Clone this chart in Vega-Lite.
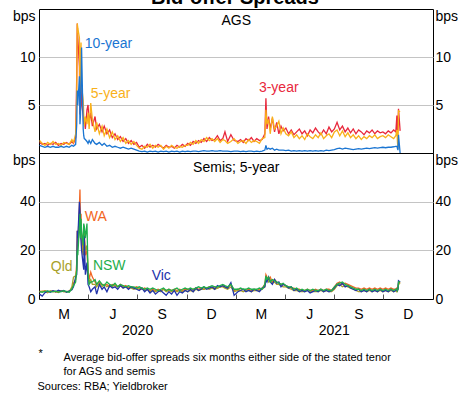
{
  "$schema": "https://vega.github.io/schema/vega-lite/v6.json",
  "autosize": {"type": "none"},
  "padding": {"left": 39, "top": 9, "right": 426, "bottom": 387},
  "bounds": "flush",
  "spacing": 0,
  "title": {"text": "Bid-offer Spreads", "fontSize": 20, "fontWeight": "bold", "font": "Liberation Sans", "color": "#000", "anchor": "middle", "baseline": "alphabetic", "offset": -15},
  "config": {
    "view": {"stroke": "#000", "strokeWidth": 1},
    "font": "Liberation Sans",
    "axis": {"labelFont": "Liberation Sans", "labelFontSize": 14, "labelColor": "#000", "titleFont": "Liberation Sans"},
    "text": {"font": "Liberation Sans"}
  },
  "datasets": {
    "s": [
      {"d":"2020-01-02","a3":1.1,"a5":1.3,"a10":0.8,"wa":3.2,"q":2.8,"n":3.0,"v":2.0},
      {"d":"2020-01-07","a3":0.9,"a5":1.0,"a10":0.7,"wa":3.0,"q":3.2,"n":2.7,"v":1.2},
      {"d":"2020-01-12","a3":1.0,"a5":0.8,"a10":0.6,"wa":3.4,"q":3.0,"n":3.1,"v":2.6},
      {"d":"2020-01-17","a3":0.8,"a5":1.1,"a10":0.7,"wa":2.9,"q":2.6,"n":3.3,"v":3.2},
      {"d":"2020-01-22","a3":1.0,"a5":0.9,"a10":0.6,"wa":3.1,"q":3.4,"n":2.9,"v":2.8},
      {"d":"2020-01-27","a3":0.9,"a5":1.2,"a10":0.7,"wa":3.3,"q":2.9,"n":3.0,"v":3.4},
      {"d":"2020-02-01","a3":1.1,"a5":0.9,"a10":0.6,"wa":2.8,"q":3.1,"n":3.2,"v":3.0},
      {"d":"2020-02-06","a3":0.8,"a5":1.0,"a10":0.6,"wa":3.0,"q":2.7,"n":2.8,"v":3.6},
      {"d":"2020-02-11","a3":1.0,"a5":0.8,"a10":0.7,"wa":3.4,"q":3.3,"n":3.0,"v":3.1},
      {"d":"2020-02-16","a3":0.9,"a5":1.1,"a10":0.6,"wa":3.1,"q":2.9,"n":3.4,"v":3.5},
      {"d":"2020-02-21","a3":1.1,"a5":1.0,"a10":0.7,"wa":2.9,"q":3.1,"n":3.0,"v":2.8},
      {"d":"2020-02-26","a3":0.9,"a5":0.9,"a10":0.6,"wa":3.2,"q":3.0,"n":2.8,"v":3.3},
      {"d":"2020-03-02","a3":1.2,"a5":1.4,"a10":0.8,"wa":4.0,"q":5.0,"n":4.2,"v":3.8},
      {"d":"2020-03-05","a3":1.0,"a5":1.1,"a10":0.7,"wa":6.5,"q":9.0,"n":5.5,"v":5.0},
      {"d":"2020-03-09","a3":1.6,"a5":2.0,"a10":0.9,"wa":8.0,"q":9.5,"n":7.0,"v":9.0},
      {"d":"2020-03-11","a3":8,"a5":6,"a10":3,"wa":15,"q":12,"n":12,"v":10},
      {"d":"2020-03-12","a3":13.5,"a5":13.5,"a10":6.5,"wa":28,"q":22,"n":20,"v":28},
      {"d":"2020-03-13","a3":12,"a5":13,"a10":5,"wa":22,"q":25,"n":18,"v":25},
      {"d":"2020-03-16","a3":9,"a5":12,"a10":8,"wa":38,"q":32,"n":30,"v":40},
      {"d":"2020-03-17","a3":4,"a5":6,"a10":3,"wa":45,"q":36,"n":35,"v":36},
      {"d":"2020-03-18","a3":6,"a5":9.5,"a10":4,"wa":30,"q":28,"n":25,"v":26},
      {"d":"2020-03-19","a3":10,"a5":11.5,"a10":7,"wa":35,"q":30,"n":33,"v":24},
      {"d":"2020-03-20","a3":5,"a5":7,"a10":11,"wa":25,"q":22,"n":28,"v":20},
      {"d":"2020-03-23","a3":4,"a5":5.5,"a10":2.5,"wa":20,"q":18,"n":22,"v":14},
      {"d":"2020-03-24","a3":3,"a5":4,"a10":1.8,"wa":29,"q":30,"n":31,"v":12},
      {"d":"2020-03-25","a3":3.5,"a5":2.8,"a10":1.5,"wa":27,"q":25,"n":30,"v":26},
      {"d":"2020-03-27","a3":2.5,"a5":3.8,"a10":1.4,"wa":18,"q":20,"n":25,"v":10},
      {"d":"2020-03-30","a3":4.5,"a5":3,"a10":1.2,"wa":20,"q":22,"n":31,"v":15},
      {"d":"2020-04-01","a3":5.0,"a5":4.2,"a10":1.0,"wa":12,"q":10,"n":10,"v":6},
      {"d":"2020-04-03","a3":3.2,"a5":2.5,"a10":1.3,"wa":8,"q":7,"n":6,"v":5},
      {"d":"2020-04-06","a3":4.2,"a5":5.2,"a10":1.0,"wa":11,"q":8,"n":7,"v":3},
      {"d":"2020-04-09","a3":2.8,"a5":3.5,"a10":1.4,"wa":9,"q":6,"n":7,"v":4},
      {"d":"2020-04-14","a3":3.8,"a5":2.2,"a10":1.0,"wa":7,"q":6,"n":8,"v":5},
      {"d":"2020-04-17","a3":2.5,"a5":3.2,"a10":0.9,"wa":6,"q":5,"n":6,"v":2},
      {"d":"2020-04-22","a3":3.0,"a5":2.0,"a10":1.1,"wa":7,"q":6.5,"n":7.5,"v":6},
      {"d":"2020-04-27","a3":2.2,"a5":2.8,"a10":0.8,"wa":6,"q":5,"n":6,"v":4},
      {"d":"2020-05-01","a3":2.8,"a5":1.8,"a10":1.0,"wa":5.5,"q":6,"n":5.5,"v":5},
      {"d":"2020-05-06","a3":2.0,"a5":2.5,"a10":0.7,"wa":6,"q":5,"n":7,"v":3},
      {"d":"2020-05-11","a3":2.4,"a5":1.6,"a10":0.8,"wa":5,"q":5.5,"n":6,"v":5.5},
      {"d":"2020-05-16","a3":1.6,"a5":2.2,"a10":0.6,"wa":6,"q":5,"n":5.5,"v":4.5},
      {"d":"2020-05-21","a3":2.0,"a5":1.4,"a10":0.7,"wa":5.5,"q":6,"n":6.5,"v":5},
      {"d":"2020-05-26","a3":1.4,"a5":1.8,"a10":0.6,"wa":5,"q":5,"n":5,"v":4},
      {"d":"2020-05-31","a3":1.7,"a5":1.2,"a10":0.5,"wa":6,"q":5.5,"n":6,"v":5.5},
      {"d":"2020-06-05","a3":1.2,"a5":1.6,"a10":0.6,"wa":5,"q":4.5,"n":5.5,"v":4.5},
      {"d":"2020-06-10","a3":1.5,"a5":1.0,"a10":0.5,"wa":5.5,"q":5,"n":5,"v":5},
      {"d":"2020-06-15","a3":1.0,"a5":1.3,"a10":0.4,"wa":4.5,"q":5,"n":5.5,"v":4},
      {"d":"2020-06-20","a3":1.3,"a5":0.9,"a10":0.5,"wa":5,"q":4.5,"n":5,"v":5},
      {"d":"2020-06-25","a3":0.9,"a5":1.2,"a10":0.4,"wa":4.5,"q":4,"n":5,"v":4.5},
      {"d":"2020-06-30","a3":1.1,"a5":0.8,"a10":0.3,"wa":5,"q":4.5,"n":4.5,"v":4},
      {"d":"2020-07-05","a3":0.6,"a5":0.5,"a10":0.2,"wa":4.5,"q":4,"n":5,"v":3.5},
      {"d":"2020-07-10","a3":0.8,"a5":0.4,"a10":0.15,"wa":4,"q":4.5,"n":4.5,"v":4.5},
      {"d":"2020-07-15","a3":0.5,"a5":0.7,"a10":0.2,"wa":4.5,"q":3.5,"n":4,"v":3},
      {"d":"2020-07-20","a3":0.9,"a5":0.6,"a10":0.1,"wa":4,"q":4,"n":4.5,"v":4},
      {"d":"2020-07-25","a3":0.6,"a5":0.9,"a10":0.2,"wa":3.5,"q":3,"n":4,"v":2.5},
      {"d":"2020-07-30","a3":0.8,"a5":0.5,"a10":0.15,"wa":4,"q":3.5,"n":4.5,"v":3.5},
      {"d":"2020-08-04","a3":0.6,"a5":0.8,"a10":0.2,"wa":3.5,"q":3,"n":4,"v":2},
      {"d":"2020-08-09","a3":0.9,"a5":0.6,"a10":0.1,"wa":4,"q":3.5,"n":3.5,"v":3},
      {"d":"2020-08-14","a3":0.7,"a5":0.8,"a10":0.2,"wa":3.5,"q":3,"n":4,"v":3.5},
      {"d":"2020-08-19","a3":0.5,"a5":0.4,"a10":0.15,"wa":4,"q":4,"n":4.5,"v":2.5},
      {"d":"2020-08-24","a3":0.8,"a5":0.7,"a10":0.2,"wa":3.5,"q":3,"n":3.5,"v":1.5},
      {"d":"2020-08-29","a3":0.6,"a5":0.5,"a10":0.1,"wa":4,"q":3.5,"n":4,"v":3},
      {"d":"2020-09-03","a3":0.7,"a5":0.8,"a10":0.2,"wa":3.5,"q":3,"n":3.5,"v":2},
      {"d":"2020-09-08","a3":0.5,"a5":0.6,"a10":0.15,"wa":4,"q":3.5,"n":4,"v":3.5},
      {"d":"2020-09-13","a3":0.8,"a5":0.5,"a10":0.2,"wa":3.5,"q":3,"n":4.5,"v":1.5},
      {"d":"2020-09-18","a3":0.6,"a5":0.7,"a10":0.1,"wa":4,"q":3.5,"n":3.5,"v":3},
      {"d":"2020-09-23","a3":0.9,"a5":0.6,"a10":0.2,"wa":3.5,"q":3,"n":4,"v":2.5},
      {"d":"2020-09-28","a3":0.7,"a5":0.8,"a10":0.15,"wa":4,"q":3.5,"n":4.5,"v":3.5},
      {"d":"2020-10-03","a3":1.0,"a5":0.8,"a10":0.2,"wa":4,"q":3,"n":4,"v":3},
      {"d":"2020-10-08","a3":0.8,"a5":1.1,"a10":0.15,"wa":3.5,"q":3.5,"n":4.5,"v":4},
      {"d":"2020-10-13","a3":1.2,"a5":0.9,"a10":0.2,"wa":4,"q":3,"n":4,"v":3},
      {"d":"2020-10-18","a3":1.0,"a5":1.3,"a10":0.2,"wa":4.5,"q":4,"n":4.5,"v":4.5},
      {"d":"2020-10-23","a3":1.3,"a5":1.0,"a10":0.15,"wa":4,"q":3.5,"n":5,"v":3.5},
      {"d":"2020-10-28","a3":1.1,"a5":1.4,"a10":0.2,"wa":4.5,"q":4,"n":4.5,"v":4},
      {"d":"2020-11-02","a3":1.5,"a5":1.2,"a10":0.25,"wa":4,"q":4,"n":5,"v":5},
      {"d":"2020-11-07","a3":1.2,"a5":1.6,"a10":0.2,"wa":4.5,"q":4.5,"n":4.5,"v":4},
      {"d":"2020-11-12","a3":1.6,"a5":1.3,"a10":0.2,"wa":5,"q":4,"n":5,"v":4.5},
      {"d":"2020-11-17","a3":1.3,"a5":1.5,"a10":0.25,"wa":4.5,"q":4.5,"n":5.5,"v":5},
      {"d":"2020-11-22","a3":1.4,"a5":1.2,"a10":0.2,"wa":5,"q":4,"n":5,"v":4},
      {"d":"2020-11-27","a3":1.8,"a5":1.5,"a10":0.2,"wa":4.5,"q":4.5,"n":5,"v":5.5},
      {"d":"2020-12-02","a3":1.3,"a5":1.1,"a10":0.25,"wa":5,"q":5,"n":5.5,"v":5},
      {"d":"2020-12-07","a3":1.5,"a5":1.4,"a10":0.2,"wa":5.5,"q":5,"n":6,"v":5.5},
      {"d":"2020-12-11","a3":2.2,"a5":1.3,"a10":0.2,"wa":5,"q":4.5,"n":5.5,"v":5},
      {"d":"2020-12-16","a3":1.2,"a5":1.0,"a10":0.2,"wa":4.5,"q":4,"n":5,"v":4.5},
      {"d":"2020-12-22","a3":1.9,"a5":1.2,"a10":0.15,"wa":6,"q":5,"n":6,"v":6.7},
      {"d":"2020-12-28","a3":1.3,"a5":1.5,"a10":0.2,"wa":3.5,"q":3,"n":4,"v":1.5},
      {"d":"2021-01-04","a3":1.2,"a5":1.0,"a10":0.2,"wa":4,"q":3.5,"n":4,"v":3},
      {"d":"2021-01-09","a3":1.4,"a5":1.2,"a10":0.15,"wa":3.5,"q":3.5,"n":4.5,"v":3.5},
      {"d":"2021-01-14","a3":1.1,"a5":1.3,"a10":0.2,"wa":4,"q":3,"n":4,"v":4},
      {"d":"2021-01-19","a3":1.5,"a5":1.0,"a10":0.15,"wa":3.5,"q":3.5,"n":4,"v":3},
      {"d":"2021-01-24","a3":1.3,"a5":1.4,"a10":0.2,"wa":4,"q":3.5,"n":4.5,"v":3.5},
      {"d":"2021-01-29","a3":1.6,"a5":1.1,"a10":0.2,"wa":3.5,"q":3,"n":4,"v":3},
      {"d":"2021-02-03","a3":1.2,"a5":1.3,"a10":0.15,"wa":4,"q":3.5,"n":4,"v":4},
      {"d":"2021-02-08","a3":1.5,"a5":1.2,"a10":0.2,"wa":3.5,"q":3.5,"n":4,"v":3.5},
      {"d":"2021-02-13","a3":1.3,"a5":1.0,"a10":0.15,"wa":4,"q":3.5,"n":4.5,"v":3},
      {"d":"2021-02-18","a3":1.4,"a5":1.5,"a10":0.2,"wa":4.5,"q":4,"n":4,"v":4.5},
      {"d":"2021-02-23","a3":2.0,"a5":1.6,"a10":0.3,"wa":6,"q":5,"n":6,"v":5},
      {"d":"2021-02-25","a3":5.7,"a5":4.5,"a10":0.8,"wa":10,"q":8,"n":9.5,"v":8},
      {"d":"2021-02-27","a3":2.5,"a5":3.0,"a10":0.4,"wa":9,"q":8.5,"n":8,"v":7},
      {"d":"2021-03-02","a3":3.8,"a5":3.5,"a10":0.5,"wa":8,"q":7,"n":9,"v":9},
      {"d":"2021-03-05","a3":2.5,"a5":2.0,"a10":0.4,"wa":9,"q":8,"n":7,"v":7},
      {"d":"2021-03-09","a3":3.6,"a5":3.8,"a10":0.5,"wa":7,"q":6.5,"n":8,"v":6},
      {"d":"2021-03-13","a3":2.2,"a5":2.5,"a10":0.3,"wa":8,"q":7,"n":7.5,"v":8},
      {"d":"2021-03-17","a3":3.2,"a5":2.8,"a10":0.4,"wa":7,"q":6,"n":7,"v":6.5},
      {"d":"2021-03-21","a3":2.0,"a5":3.3,"a10":0.3,"wa":6.5,"q":6,"n":6.5,"v":7},
      {"d":"2021-03-25","a3":2.8,"a5":2.0,"a10":0.3,"wa":6,"q":5.5,"n":6,"v":5},
      {"d":"2021-03-29","a3":2.3,"a5":2.6,"a10":0.3,"wa":6,"q":5,"n":6.5,"v":6},
      {"d":"2021-04-03","a3":2.6,"a5":2.0,"a10":0.25,"wa":5.5,"q":5,"n":5.5,"v":5.5},
      {"d":"2021-04-08","a3":2.0,"a5":1.8,"a10":0.3,"wa":5,"q":4.5,"n":5,"v":4.5},
      {"d":"2021-04-13","a3":2.4,"a5":2.2,"a10":0.2,"wa":4.5,"q":4,"n":5,"v":5},
      {"d":"2021-04-18","a3":1.9,"a5":1.6,"a10":0.25,"wa":4.5,"q":3.5,"n":4,"v":3.5},
      {"d":"2021-04-23","a3":2.2,"a5":1.9,"a10":0.2,"wa":4,"q":3.5,"n":4.5,"v":4},
      {"d":"2021-04-28","a3":2.5,"a5":1.5,"a10":0.25,"wa":4,"q":3,"n":3.5,"v":3},
      {"d":"2021-05-03","a3":2.0,"a5":1.8,"a10":0.2,"wa":3.5,"q":3,"n":4,"v":3.5},
      {"d":"2021-05-08","a3":2.3,"a5":1.4,"a10":0.25,"wa":3.5,"q":3,"n":3.5,"v":3},
      {"d":"2021-05-13","a3":1.8,"a5":2.0,"a10":0.2,"wa":4,"q":3.5,"n":4,"v":3.5},
      {"d":"2021-05-18","a3":2.4,"a5":1.7,"a10":0.25,"wa":3.5,"q":3,"n":3.5,"v":2.5},
      {"d":"2021-05-23","a3":2.1,"a5":1.5,"a10":0.2,"wa":3.5,"q":3,"n":4,"v":3},
      {"d":"2021-05-28","a3":2.6,"a5":1.9,"a10":0.25,"wa":4,"q":3,"n":3.5,"v":3.5},
      {"d":"2021-06-02","a3":2.2,"a5":1.6,"a10":0.2,"wa":3.5,"q":3,"n":3.5,"v":3},
      {"d":"2021-06-07","a3":1.9,"a5":2.1,"a10":0.25,"wa":4,"q":3.5,"n":4,"v":4},
      {"d":"2021-06-12","a3":2.4,"a5":1.5,"a10":0.2,"wa":3.5,"q":3,"n":3.5,"v":3},
      {"d":"2021-06-17","a3":2.0,"a5":1.8,"a10":0.3,"wa":4,"q":3.5,"n":4,"v":3.5},
      {"d":"2021-06-22","a3":2.7,"a5":2.0,"a10":0.25,"wa":4,"q":3,"n":3.5,"v":3},
      {"d":"2021-06-27","a3":2.2,"a5":1.6,"a10":0.3,"wa":3.5,"q":3,"n":3.5,"v":3.5},
      {"d":"2021-07-02","a3":2.5,"a5":2.2,"a10":0.35,"wa":5,"q":4,"n":5,"v":4.5},
      {"d":"2021-07-07","a3":3.2,"a5":2.4,"a10":0.45,"wa":6.5,"q":5.5,"n":6,"v":6},
      {"d":"2021-07-12","a3":2.4,"a5":1.8,"a10":0.5,"wa":7,"q":6,"n":6.5,"v":5.5},
      {"d":"2021-07-17","a3":2.8,"a5":2.3,"a10":0.4,"wa":6,"q":5,"n":7,"v":6.5},
      {"d":"2021-07-22","a3":2.2,"a5":1.7,"a10":0.5,"wa":6.5,"q":5.5,"n":6,"v":5},
      {"d":"2021-07-27","a3":2.6,"a5":2.1,"a10":0.45,"wa":6,"q":5,"n":5.5,"v":5.5},
      {"d":"2021-08-01","a3":2.1,"a5":1.6,"a10":0.4,"wa":5.5,"q":4.5,"n":5,"v":4.5},
      {"d":"2021-08-06","a3":2.5,"a5":1.9,"a10":0.35,"wa":5,"q":4,"n":4.5,"v":4},
      {"d":"2021-08-11","a3":2.0,"a5":1.5,"a10":0.4,"wa":4.5,"q":3.5,"n":4,"v":3.5},
      {"d":"2021-08-16","a3":2.4,"a5":1.8,"a10":0.45,"wa":4.5,"q":3,"n":4,"v":4},
      {"d":"2021-08-21","a3":2.2,"a5":1.4,"a10":0.4,"wa":4,"q":3,"n":3.5,"v":3},
      {"d":"2021-08-26","a3":1.9,"a5":1.7,"a10":0.45,"wa":4.5,"q":3.5,"n":4,"v":3.5},
      {"d":"2021-08-31","a3":2.3,"a5":1.5,"a10":0.5,"wa":4,"q":3,"n":3.5,"v":3},
      {"d":"2021-09-05","a3":2.1,"a5":1.8,"a10":0.45,"wa":4.5,"q":3.5,"n":4,"v":4},
      {"d":"2021-09-10","a3":2.4,"a5":1.6,"a10":0.5,"wa":4,"q":3,"n":3.5,"v":3},
      {"d":"2021-09-15","a3":2.0,"a5":1.9,"a10":0.55,"wa":4.5,"q":3.5,"n":4,"v":3.5},
      {"d":"2021-09-20","a3":2.3,"a5":1.5,"a10":0.5,"wa":4,"q":3,"n":3.5,"v":3},
      {"d":"2021-09-25","a3":2.1,"a5":1.7,"a10":0.55,"wa":4.5,"q":3.5,"n":4,"v":4},
      {"d":"2021-09-30","a3":2.2,"a5":1.8,"a10":0.6,"wa":4,"q":3,"n":3.5,"v":3},
      {"d":"2021-10-05","a3":2.0,"a5":1.6,"a10":0.55,"wa":4.5,"q":3.5,"n":4,"v":3.5},
      {"d":"2021-10-10","a3":2.3,"a5":1.9,"a10":0.6,"wa":4,"q":3,"n":3.5,"v":3},
      {"d":"2021-10-15","a3":2.1,"a5":1.7,"a10":0.6,"wa":4.5,"q":3.5,"n":4,"v":4},
      {"d":"2021-10-20","a3":2.4,"a5":1.5,"a10":0.65,"wa":4,"q":3,"n":3.5,"v":3},
      {"d":"2021-10-24","a3":2.2,"a5":1.8,"a10":0.7,"wa":4,"q":3.5,"n":4,"v":3.5},
      {"d":"2021-10-26","a3":3.9,"a5":2.4,"a10":0.7,"wa":4.5,"q":3,"n":4,"v":4},
      {"d":"2021-10-27","a3":2.0,"a5":1.2,"a10":0.5,"wa":4,"q":3.5,"n":3.5,"v":3.5},
      {"d":"2021-10-28","a3":2.8,"a5":0.4,"a10":0.3,"wa":4.5,"q":4,"n":4.5,"v":4},
      {"d":"2021-10-29","a3":4.6,"a5":4.4,"a10":1.9,"wa":6.5,"q":6,"n":7,"v":7.5},
      {"d":"2021-11-01","a3":2.3,"a5":4.3,"a10":0.0,"wa":7,"q":6.5,"n":7,"v":7}
    ],
    "lab": [
      {"p":1,"t":"10-year","d":"2020-03-26","v":11.35},
      {"p":1,"t":"5-year","d":"2020-04-06","v":6.1},
      {"p":1,"t":"3-year","d":"2021-02-12","v":6.77},
      {"p":2,"t":"WA","d":"2020-03-26","v":33.9},
      {"p":2,"t":"Qld","d":"2020-01-23","v":13.2},
      {"p":2,"t":"NSW","d":"2020-04-10","v":13.7},
      {"p":2,"t":"Vic","d":"2020-07-28","v":9.5}
    ],
    "ttl": [
      {"p":1,"t":"AGS","d":"2021-01-01","v":13.75},
      {"p":2,"t":"Semis; 5-year","d":"2021-01-01","v":53.9}
    ]
  },
  "data": {"name": "s"},
  "vconcat": [
    {
      "width": 394,
      "height": 144,
      "layer": [
        {"mark": {"type": "line", "color": "#e8283c", "strokeWidth": 1.3},
         "encoding": {
           "x": {"field": "d", "type": "temporal", "scale": {"type": "utc", "domain": [{"year":2020,"month":1,"date":1,"utc":true},{"year":2022,"month":1,"date":1,"utc":true}]}, "axis": null},
           "y": {"field": "a3", "type": "quantitative", "scale": {"domain": [0, 15], "nice": false}, "axis": {"orient": "left", "values": [0, 5, 10, 15], "title": null, "domain": false, "ticks": false, "labelPadding": 4, "labelFlush": false, "labelOverlap": false, "labelExpr": "datum.value==15?'bps':datum.value==0?'':datum.label", "labelBaseline": {"condition": {"test": "datum.value==15", "value": "top"}, "value": "middle"}, "grid": true, "gridColor": {"condition": {"test": "datum.value==0||datum.value==15", "value": "transparent"}, "value": "#c4c4c4"}}}
         }},
        {"mark": {"type": "line", "color": "#f9b11a", "strokeWidth": 1.3},
         "encoding": {
           "x": {"field": "d", "type": "temporal", "scale": {"type": "utc", "domain": [{"year":2020,"month":1,"date":1,"utc":true},{"year":2022,"month":1,"date":1,"utc":true}]}, "axis": null},
           "y": {"field": "a5", "type": "quantitative", "scale": {"domain": [0, 15], "nice": false}, "axis": null}
         }},
        {"mark": {"type": "line", "color": "#1a75d2", "strokeWidth": 1.3},
         "encoding": {
           "x": {"field": "d", "type": "temporal", "scale": {"type": "utc", "domain": [{"year":2020,"month":1,"date":1,"utc":true},{"year":2022,"month":1,"date":1,"utc":true}]}, "axis": null},
           "y": {"field": "a10", "type": "quantitative", "scale": {"domain": [0, 15], "nice": false}, "axis": null}
         }},
        {"mark": {"type": "point", "opacity": 0},
         "encoding": {
           "x": {"field": "d", "type": "temporal", "scale": {"type": "utc", "domain": [{"year":2020,"month":1,"date":1,"utc":true},{"year":2022,"month":1,"date":1,"utc":true}]}, "axis": null},
           "y": {"field": "a3", "type": "quantitative", "scale": {"domain": [0, 15], "nice": false}, "axis": {"orient": "right", "values": [0, 5, 10, 15], "title": null, "domain": false, "ticks": false, "grid": false, "labelPadding": 2, "labelFlush": false, "labelOverlap": false, "labelExpr": "datum.value==15?'bps':datum.value==0?'':datum.label", "labelBaseline": {"condition": {"test": "datum.value==15", "value": "top"}, "value": "middle"}}}
         }},
        {"data": {"name": "lab"}, "transform": [{"filter": "datum.p==1"}],
         "mark": {"type": "text", "align": "left", "baseline": "middle", "fontSize": 14},
         "encoding": {
           "x": {"field": "d", "type": "temporal", "scale": {"type": "utc", "domain": [{"year":2020,"month":1,"date":1,"utc":true},{"year":2022,"month":1,"date":1,"utc":true}]}, "axis": null},
           "y": {"field": "v", "type": "quantitative", "scale": {"domain": [0, 15], "nice": false}, "axis": null},
           "text": {"field": "t"},
           "color": {"field": "t", "type": "nominal", "scale": {"domain": ["3-year","5-year","10-year","WA","Qld","NSW","Vic"], "range": ["#e8283c","#f9b11a","#1a75d2","#f26522","#a8a12a","#1fae4c","#2233aa"]}, "legend": null}
         }},
        {"data": {"name": "ttl"}, "transform": [{"filter": "datum.p==1"}],
         "mark": {"type": "text", "align": "center", "baseline": "middle", "fontSize": 14, "color": "#000"},
         "encoding": {
           "x": {"field": "d", "type": "temporal", "scale": {"type": "utc", "domain": [{"year":2020,"month":1,"date":1,"utc":true},{"year":2022,"month":1,"date":1,"utc":true}]}, "axis": null},
           "y": {"field": "v", "type": "quantitative", "scale": {"domain": [0, 15], "nice": false}, "axis": null},
           "text": {"field": "t"}
         }}
      ],
      "resolve": {"axis": {"x": "independent", "y": "independent"}}
    },
    {
      "width": 394,
      "height": 146,
      "layer": [
        {"mark": {"type": "line", "color": "#f26522", "strokeWidth": 1.3},
         "encoding": {
           "x": {"field": "d", "type": "temporal", "scale": {"type": "utc", "domain": [{"year":2020,"month":1,"date":1,"utc":true},{"year":2022,"month":1,"date":1,"utc":true}]}, "axis": {"orient": "bottom", "values": [{"year":2020,"month":4,"date":1,"utc":true},{"year":2020,"month":7,"date":1,"utc":true},{"year":2020,"month":10,"date":1,"utc":true},{"year":2021,"month":1,"date":1,"utc":true},{"year":2021,"month":4,"date":1,"utc":true},{"year":2021,"month":7,"date":1,"utc":true},{"year":2021,"month":10,"date":1,"utc":true}], "labels": false, "domain": false, "ticks": true, "tickSize": -5, "tickColor": "#555", "tickWidth": 1, "grid": false, "title": null}},
           "y": {"field": "wa", "type": "quantitative", "scale": {"domain": [0, 60], "nice": false}, "axis": {"orient": "left", "values": [0, 20, 40, 60], "title": null, "domain": false, "ticks": false, "labelPadding": 4, "labelFlush": false, "labelOverlap": false, "labelExpr": "datum.value==60?'bps':datum.label", "labelBaseline": {"condition": {"test": "datum.value==60", "value": "top"}, "value": "middle"}, "grid": true, "gridColor": {"condition": {"test": "datum.value==0||datum.value==60", "value": "transparent"}, "value": "#c4c4c4"}}}
         }},
        {"mark": {"type": "line", "color": "#a8a12a", "strokeWidth": 1.3},
         "encoding": {
           "x": {"field": "d", "type": "temporal", "scale": {"type": "utc", "domain": [{"year":2020,"month":1,"date":1,"utc":true},{"year":2022,"month":1,"date":1,"utc":true}]}, "axis": {"orient": "bottom", "values": [{"year":2020,"month":1,"date":1,"utc":true},{"year":2020,"month":4,"date":1,"utc":true},{"year":2020,"month":7,"date":1,"utc":true},{"year":2020,"month":10,"date":1,"utc":true},{"year":2021,"month":1,"date":1,"utc":true},{"year":2021,"month":4,"date":1,"utc":true},{"year":2021,"month":7,"date":1,"utc":true},{"year":2021,"month":10,"date":1,"utc":true}], "ticks": false, "domain": false, "grid": false, "title": null, "labelOffset": 24.5, "labelPadding": 15, "labelBaseline": "middle", "labelFlush": false, "labelOverlap": false, "labelExpr": "utcmonth(datum.value)==0?'M':utcmonth(datum.value)==3?'J':utcmonth(datum.value)==6?'S':'D'"}},
           "y": {"field": "q", "type": "quantitative", "scale": {"domain": [0, 60], "nice": false}, "axis": null}
         }},
        {"mark": {"type": "line", "color": "#2233aa", "strokeWidth": 1.3},
         "encoding": {
           "x": {"field": "d", "type": "temporal", "scale": {"type": "utc", "domain": [{"year":2020,"month":1,"date":1,"utc":true},{"year":2022,"month":1,"date":1,"utc":true}]}, "axis": null},
           "y": {"field": "v", "type": "quantitative", "scale": {"domain": [0, 60], "nice": false}, "axis": null}
         }},
        {"mark": {"type": "line", "color": "#1fae4c", "strokeWidth": 1.3},
         "encoding": {
           "x": {"field": "d", "type": "temporal", "scale": {"type": "utc", "domain": [{"year":2020,"month":1,"date":1,"utc":true},{"year":2022,"month":1,"date":1,"utc":true}]}, "axis": null},
           "y": {"field": "n", "type": "quantitative", "scale": {"domain": [0, 60], "nice": false}, "axis": null}
         }},
        {"mark": {"type": "point", "opacity": 0},
         "encoding": {
           "x": {"field": "d", "type": "temporal", "scale": {"type": "utc", "domain": [{"year":2020,"month":1,"date":1,"utc":true},{"year":2022,"month":1,"date":1,"utc":true}]}, "axis": {"orient": "bottom", "values": [{"year":2020,"month":7,"date":1,"utc":true},{"year":2021,"month":7,"date":1,"utc":true}], "ticks": false, "domain": false, "grid": false, "labelPadding": 31, "labelBaseline": "middle", "labelFlush": false, "labelOverlap": false, "labelExpr": "''+utcyear(datum.value)", "title": ["Average bid-offer spreads six months either side of the stated tenor", "for AGS and semis"], "titleX": 24, "titleY": 61, "titleAlign": "left", "titleAnchor": "start", "titleBaseline": "alphabetic", "titleFontSize": 11, "titleFontWeight": "normal", "titleLineHeight": 14, "titleColor": "#000"}},
           "y": {"field": "wa", "type": "quantitative", "scale": {"domain": [0, 60], "nice": false}, "axis": {"orient": "right", "values": [0, 20, 40, 60], "title": null, "domain": false, "ticks": false, "grid": false, "labelPadding": 2, "labelFlush": false, "labelOverlap": false, "labelExpr": "datum.value==60?'bps':datum.label", "labelBaseline": {"condition": {"test": "datum.value==60", "value": "top"}, "value": "middle"}}}
         }},
        {"mark": {"type": "point", "opacity": 0},
         "encoding": {
           "x": {"field": "d", "type": "temporal", "scale": {"type": "utc", "domain": [{"year":2020,"month":1,"date":1,"utc":true},{"year":2022,"month":1,"date":1,"utc":true}]}, "axis": {"orient": "bottom", "labels": false, "ticks": false, "domain": false, "grid": false, "title": "*", "titleX": -1, "titleY": 57, "titleAlign": "left", "titleAnchor": "start", "titleBaseline": "alphabetic", "titleFontSize": 11, "titleFontWeight": "normal", "titleColor": "#000"}},
           "y": {"field": "wa", "type": "quantitative", "scale": {"domain": [0, 60], "nice": false}, "axis": null}
         }},
        {"mark": {"type": "point", "opacity": 0},
         "encoding": {
           "x": {"field": "d", "type": "temporal", "scale": {"type": "utc", "domain": [{"year":2020,"month":1,"date":1,"utc":true},{"year":2022,"month":1,"date":1,"utc":true}]}, "axis": {"orient": "bottom", "labels": false, "ticks": false, "domain": false, "grid": false, "title": "Sources: RBA; Yieldbroker", "titleX": -2, "titleY": 90, "titleAlign": "left", "titleAnchor": "start", "titleBaseline": "alphabetic", "titleFontSize": 11, "titleFontWeight": "normal", "titleColor": "#000"}},
           "y": {"field": "wa", "type": "quantitative", "scale": {"domain": [0, 60], "nice": false}, "axis": null}
         }},
        {"data": {"name": "lab"}, "transform": [{"filter": "datum.p==2"}],
         "mark": {"type": "text", "align": "left", "baseline": "middle", "fontSize": 14},
         "encoding": {
           "x": {"field": "d", "type": "temporal", "scale": {"type": "utc", "domain": [{"year":2020,"month":1,"date":1,"utc":true},{"year":2022,"month":1,"date":1,"utc":true}]}, "axis": null},
           "y": {"field": "v", "type": "quantitative", "scale": {"domain": [0, 60], "nice": false}, "axis": null},
           "text": {"field": "t"},
           "color": {"field": "t", "type": "nominal", "scale": {"domain": ["3-year","5-year","10-year","WA","Qld","NSW","Vic"], "range": ["#e8283c","#f9b11a","#1a75d2","#f26522","#a8a12a","#1fae4c","#2233aa"]}, "legend": null}
         }},
        {"data": {"name": "ttl"}, "transform": [{"filter": "datum.p==2"}],
         "mark": {"type": "text", "align": "center", "baseline": "middle", "fontSize": 14, "color": "#000"},
         "encoding": {
           "x": {"field": "d", "type": "temporal", "scale": {"type": "utc", "domain": [{"year":2020,"month":1,"date":1,"utc":true},{"year":2022,"month":1,"date":1,"utc":true}]}, "axis": null},
           "y": {"field": "v", "type": "quantitative", "scale": {"domain": [0, 60], "nice": false}, "axis": null},
           "text": {"field": "t"}
         }}
      ],
      "resolve": {"axis": {"x": "independent", "y": "independent"}}
    }
  ]
}
